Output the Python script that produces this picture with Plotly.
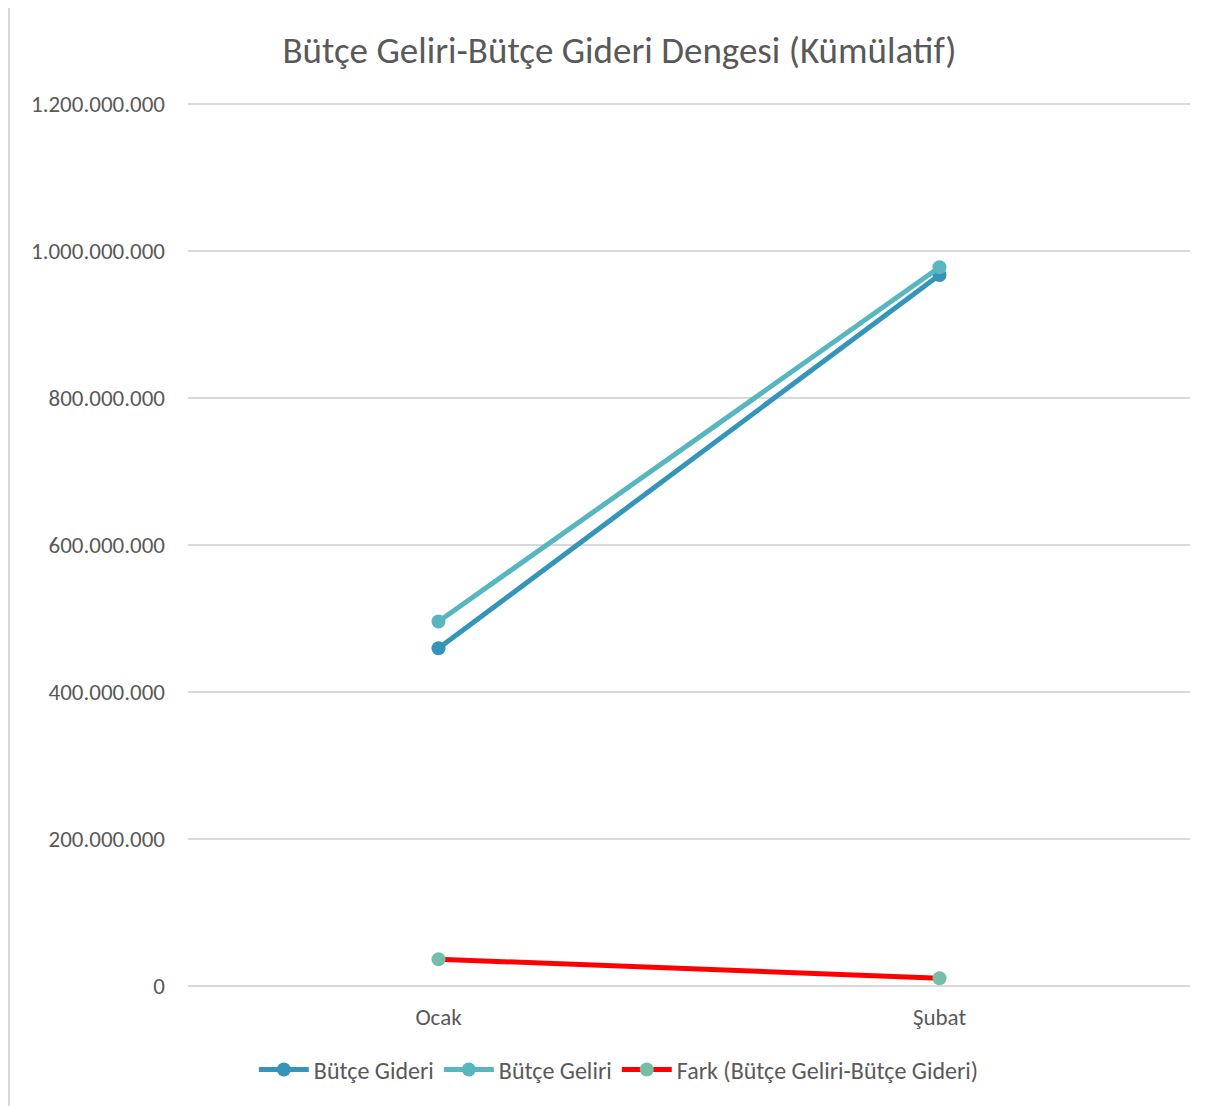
import plotly.graph_objects as go

months = ["Ocak", "Şubat"]
butce_gideri = [459500000, 967500000]
butce_geliri = [496000000, 978000000]
fark = [36500000, 10500000]

names = ["Bütçe Gideri", "Bütçe Geliri", "Fark (Bütçe Geliri-Bütçe Gideri)"]
line_colors = ["#3494BA", "#58B6C0", "#FF0000"]
marker_colors = ["#3494BA", "#58B6C0", "#75BDA7"]

FONT = "Carlito, Calibri, Lato, sans-serif"
TXT = "#595959"

fig = go.Figure()
for name, vals, lc, mc in zip(names, [butce_gideri, butce_geliri, fark], line_colors, marker_colors):
    fig.add_trace(go.Scatter(
        x=months, y=vals, name=name, mode="lines+markers",
        line=dict(color=lc, width=5),
        marker=dict(color=mc, size=14),
    ))

fig.update_layout(
    width=1223, height=1106,
    margin=dict(l=180, r=41, t=95, b=128),
    paper_bgcolor="white", plot_bgcolor="white",
    separators=",.",
    font=dict(family=FONT, color=TXT, size=23),
    title=dict(text="Bütçe Geliri-Bütçe Gideri Dengesi (Kümülatif)",
               x=0.5, xanchor="center", y=1 - 42 / 1106, yanchor="middle",
               font=dict(size=37, color=TXT, family=FONT)),
    showlegend=True,
    legend=dict(orientation="h", x=0.43, xanchor="center", y=-0.095, yanchor="middle",
                font=dict(size=24, color=TXT), itemwidth=50, traceorder="normal"),
    xaxis=dict(type="category", range=[-0.5, 1.5], showgrid=False, showline=False,
               ticks="", ticklabelstandoff=15, tickfont=dict(size=23, color=TXT)),
    yaxis=dict(range=[0, 1.2015e9], dtick=2e8, tickformat=",d", showgrid=True,
               gridcolor="#D9D9D9", gridwidth=1.5, zeroline=True, zerolinecolor="#D9D9D9",
               zerolinewidth=1.5, showline=False, ticks="", ticklabelstandoff=22,
               tickfont=dict(size=23, color=TXT)),
    shapes=[dict(type="rect", xref="paper", yref="paper",
                 x0=-0.1786, x1=1.029, y0=-0.146, y1=1.111,
                 line=dict(color="#D9D9D9", width=2), layer="below")],
)

fig.write_html("out.html")
